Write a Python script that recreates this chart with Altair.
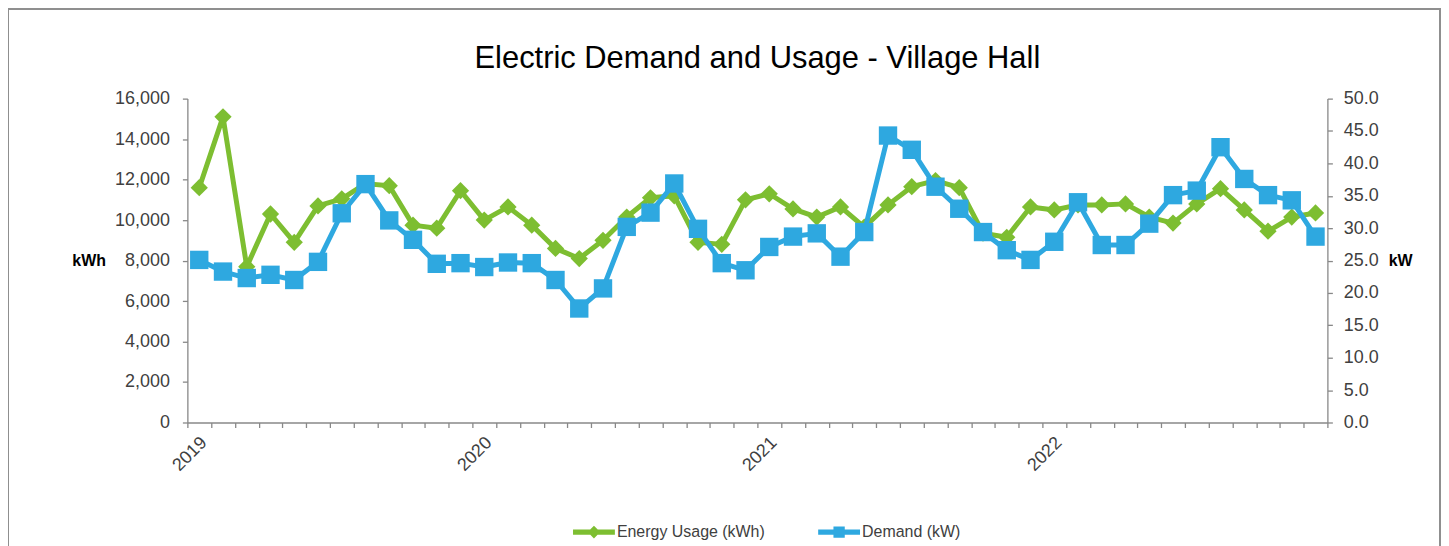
import altair as alt
import pandas as pd

# ---------------- data ----------------
years = [2019, 2020, 2021, 2022]
month_names = ["Jan", "Feb", "Mar", "Apr", "May", "Jun",
               "Jul", "Aug", "Sep", "Oct", "Nov", "Dec"]
months = [f"{m} {y}" for y in years for m in month_names]

energy_kwh = [
    11600, 15100, 7700, 10300, 8900, 10700, 11050, 11800, 11700, 9750, 9600, 11450,
    10000, 10650, 9750, 8600, 8100, 9000, 10150, 11100, 11200, 8900, 8800, 11000,
    11300, 10550, 10150, 10650, 9650, 10750, 11650, 11950, 11600, 9350, 9150, 10650,
    10500, 10750, 10750, 10800, 10150, 9850, 10800, 11550, 10500, 9450, 10150, 10350,
]
demand_kw = [
    25.1, 23.3, 22.3, 22.8, 22.0, 24.8, 32.3, 36.8, 31.2, 28.2, 24.5, 24.6,
    24.0, 24.7, 24.6, 22.0, 17.6, 20.7, 30.2, 32.4, 36.9, 29.9, 24.6, 23.5,
    27.1, 28.7, 29.2, 25.6, 29.4, 44.3, 42.1, 36.4, 33.0, 29.4, 26.6, 25.1,
    27.9, 34.0, 27.4, 27.4, 30.7, 35.1, 35.8, 42.5, 37.6, 35.1, 34.3, 28.7,
]

series_names = ["Energy Usage (kWh)", "Demand (kW)"]
series_colors = ["#7DBE31", "#2EA8E0"]

df = pd.DataFrame({
    "month": months,
    "idx": list(range(len(months))),
    "kwh": energy_kwh,
    "kw": demand_kw,
})
legend_df = pd.DataFrame({"series": series_names})

GREEN, BLUE = series_colors
FONT = "Liberation Sans"
AXIS_GRAY = "#888888"
LABEL_COLOR = "#404040"

n = len(months)
x_ticks = [i - 0.5 for i in range(n + 1)]
label_expr = (
    f"(datum.value + 0.5) % 12 == 0 && datum.value < {n - 1} "
    f"? toString({years[0]} + (datum.value + 0.5) / 12) : ''"
)

x_enc = alt.X(
    "idx:Q",
    scale=alt.Scale(domain=[-0.5, n - 0.5], nice=False, zero=False),
    axis=alt.Axis(
        values=x_ticks, labelExpr=label_expr, labelAngle=-45, labelOffset=10,
        labelPadding=6, labelFlush=False, labelOverlap=False, labelAlign="right",
        labelBaseline="top", tickSize=5, title=None, grid=False,
    ),
)

y_left = alt.Y(
    "kwh:Q",
    scale=alt.Scale(domain=[0, 16000], nice=False),
    axis=alt.Axis(
        orient="left", values=list(range(0, 16001, 2000)), format=",.0f",
        title="kWh", titleAngle=0, titleX=-116, titleY=162, titleAlign="left",
        titleBaseline="middle", tickSize=5, labelPadding=13, grid=False,
    ),
)
y_right = alt.Y(
    "kw:Q",
    scale=alt.Scale(domain=[0, 50], nice=False),
    axis=alt.Axis(
        orient="right", values=[v * 5 for v in range(11)], format=".1f",
        title="kW", titleAngle=0, titleX=61, titleY=162, titleAlign="left",
        titleBaseline="middle", tickSize=5, labelPadding=11, grid=False,
    ),
)

base = alt.Chart(df)

green = base.mark_line(
    color=GREEN, strokeWidth=5, strokeJoin="round",
    point=alt.OverlayMarkDef(filled=True, shape="diamond", size=300, color=GREEN, opacity=1),
).encode(x=x_enc, y=y_left)

blue = base.mark_line(
    color=BLUE, strokeWidth=5, strokeJoin="round",
    point=alt.OverlayMarkDef(filled=True, shape="square", size=340, color=BLUE, opacity=1),
).encode(x=x_enc, y=y_right)

diamond_path = "M-1,-0.13L1,-0.13L1,0.13L-1,0.13Z M0,-0.3L0.3,0L0,0.3L-0.3,0Z"
square_path = "M-1,-0.13L1,-0.13L1,0.13L-1,0.13Z M-0.27,-0.27L0.27,-0.27L0.27,0.27L-0.27,0.27Z"

leg = alt.Legend(
    title=None, orient="none", direction="horizontal", legendX=387, legendY=414,
    symbolSize=1764, symbolStrokeWidth=0, labelFont=FONT, labelFontSize=16,
    labelColor=LABEL_COLOR, labelOffset=2, columnPadding=53, padding=0,
)
legend_layer = alt.Chart(legend_df).transform_filter("false").mark_point(
    filled=True, size=1764, opacity=1
).encode(
    color=alt.Color("series:N", scale=alt.Scale(domain=series_names, range=series_colors), legend=leg),
    shape=alt.Shape("series:N", scale=alt.Scale(domain=series_names, range=[diamond_path, square_path]), legend=leg),
)

frame = alt.Chart(pd.DataFrame({"f": [0]})).mark_rect(
    fillOpacity=0, stroke="#8f8f8f", strokeWidth=2
).encode(x=alt.value(-180), x2=alt.value(1257), y=alt.value(-90), y2=alt.value(480))

chart = alt.layer(frame, green, blue, legend_layer).resolve_scale(
    y="independent"
).properties(
    width=1144, height=325,
    autosize=alt.AutoSizeParams(type="none"),
    padding={"left": 180, "top": 90, "right": 114, "bottom": 124},
    title=alt.TitleParams(
        "Electric Demand and Usage - Village Hall", font=FONT, fontSize=31,
        fontWeight="normal", color="black", anchor="middle", frame="group",
        offset=12, baseline="alphabetic", dy=103,
    ),
).configure_view(
    strokeWidth=0
).configure_axis(
    labelFont=FONT, labelFontSize=18, labelColor=LABEL_COLOR,
    titleFont=FONT, titleFontSize=16, titleFontWeight="bold", titleColor="black",
    domainColor=AXIS_GRAY, tickColor=AXIS_GRAY, domainWidth=1.3, tickWidth=1.3,
)

chart.save("out.html", embed_options={"renderer": "svg", "actions": False})
